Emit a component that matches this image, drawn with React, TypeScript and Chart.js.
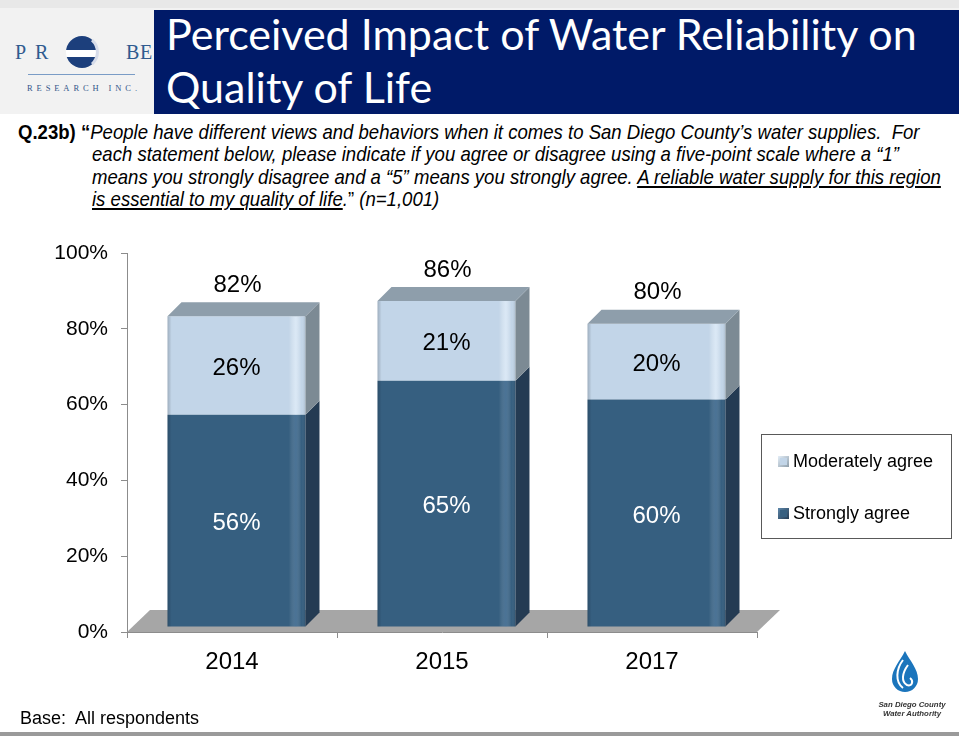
import React, { useEffect, useRef } from "react";
import { Chart, registerables } from "chart.js";

Chart.register(...registerables);

// ---- data ----
const categories = ["2014", "2015", "2017"];
const stronglyAgree = [56, 65, 60];
const moderatelyAgree = [26, 21, 20];
const totals = [82, 86, 80];
const yTickValues = [0, 20, 40, 60, 80, 100];
const seriesNames = ["Strongly agree", "Moderately agree"];

// ---- styles ----
const FONT = "'Liberation Sans', Arial, sans-serif";
const DARK = { front: "#365f80", side: "#243b53", top: "#2d4f6b", hi: "rgba(120,160,200,0.3)" };
const LIGHT = { front: "#c2d5e8", side: "#7c8a94", top: "#8e9eab", hi: "rgba(235,245,255,0.6)" };
const DEPTH_X = 14;
const DEPTH_Y = 14;
const SHIFT_X = 4.5;
const SHIFT_Y = -5;
const FLOOR_DX = 23;
const FLOOR_DY = 22;

const palette = [DARK, LIGHT];

const bar3d = {
  id: "bar3d",
  beforeDatasetsDraw(chart: any) {
    const { ctx, chartArea: a } = chart;
    ctx.save();
    ctx.fillStyle = "#a6a6a6";
    ctx.beginPath();
    ctx.moveTo(a.left, a.bottom);
    ctx.lineTo(a.right, a.bottom);
    ctx.lineTo(a.right + FLOOR_DX, a.bottom - FLOOR_DY);
    ctx.lineTo(a.left + FLOOR_DX, a.bottom - FLOOR_DY);
    ctx.closePath();
    ctx.fill();
    ctx.restore();
    ctx.save();
    ctx.translate(SHIFT_X, SHIFT_Y);
  },
  afterDatasetsDraw(chart: any) {
    const { ctx } = chart;
    const nSets = chart.data.datasets.length;
    for (let d = 0; d < nSets; d++) {
      const meta = chart.getDatasetMeta(d);
      const col = palette[d];
      meta.data.forEach((el: any) => {
        const l = el.x - el.width / 2;
        const r = el.x + el.width / 2;
        const top = Math.min(el.y, el.base);
        const bot = Math.max(el.y, el.base);
        const g = ctx.createLinearGradient(l, 0, r, 0);
        g.addColorStop(0, "rgba(0,0,0,0.18)");
        g.addColorStop(0.03, "rgba(0,0,0,0)");
        g.addColorStop(0.88, "rgba(255,255,255,0)");
        g.addColorStop(0.93, col.hi);
        g.addColorStop(0.97, "rgba(255,255,255,0)");
        g.addColorStop(1, "rgba(0,0,0,0.12)");
        ctx.fillStyle = g;
        ctx.fillRect(l, top, r - l, bot - top);
        ctx.fillStyle = col.side;
        ctx.beginPath();
        ctx.moveTo(r, top);
        ctx.lineTo(r + DEPTH_X, top - DEPTH_Y);
        ctx.lineTo(r + DEPTH_X, bot - DEPTH_Y);
        ctx.lineTo(r, bot);
        ctx.closePath();
        ctx.fill();
        if (d === nSets - 1) {
          ctx.fillStyle = col.top;
          ctx.beginPath();
          ctx.moveTo(l, top);
          ctx.lineTo(l + DEPTH_X, top - DEPTH_Y);
          ctx.lineTo(r + DEPTH_X, top - DEPTH_Y);
          ctx.lineTo(r, top);
          ctx.closePath();
          ctx.fill();
        }
      });
    }
    ctx.restore();

    ctx.save();
    ctx.font = `24px ${FONT}`;
    ctx.textAlign = "center";
    ctx.textBaseline = "middle";
    for (let d = 0; d < nSets; d++) {
      const meta = chart.getDatasetMeta(d);
      const vals = chart.data.datasets[d].data;
      ctx.fillStyle = d === 0 ? "#ffffff" : "#000000";
      meta.data.forEach((el: any, i: number) => {
        ctx.fillText(vals[i] + "%", el.x + SHIFT_X, (el.y + el.base) / 2 + SHIFT_Y + 3);
      });
    }
    const topMeta = chart.getDatasetMeta(nSets - 1);
    ctx.fillStyle = "#000";
    topMeta.data.forEach((el: any, i: number) => {
      ctx.fillText(totals[i] + "%", el.x + SHIFT_X + 1, el.y + SHIFT_Y - 31);
    });
    ctx.restore();
  },
  afterDraw(chart: any) {
    const { ctx } = chart;
    ctx.save();
    ctx.fillStyle = "#ffffff";
    ctx.strokeStyle = "#595959";
    ctx.lineWidth = 1;
    ctx.fillRect(761.5, 434.5, 190, 104);
    ctx.strokeRect(761.5, 434.5, 190, 104);
    const items = [
      { label: chart.data.datasets[1].label, col: LIGHT, y: 461 },
      { label: chart.data.datasets[0].label, col: DARK, y: 513 },
    ];
    ctx.font = `18px ${FONT}`;
    ctx.textBaseline = "middle";
    ctx.textAlign = "left";
    items.forEach((it) => {
      const g = ctx.createLinearGradient(778, it.y - 5, 789, it.y + 6);
      g.addColorStop(0, it.col === LIGHT ? "#e4eef8" : "#5d87aa");
      g.addColorStop(1, it.col === LIGHT ? "#8e9eab" : "#243b53");
      ctx.fillStyle = g;
      ctx.fillRect(778, it.y - 5, 11, 11);
      ctx.fillStyle = it.col.front;
      ctx.fillRect(780, it.y - 3, 7, 7);
      ctx.fillStyle = "#000";
      ctx.fillText(it.label, 793, it.y + 1);
    });
    ctx.restore();
  },
};

function ChartCanvas() {
  const ref = useRef<HTMLCanvasElement | null>(null);
  useEffect(() => {
    if (!ref.current) return;
    const chart = new Chart(ref.current, {
      type: "bar",
      data: {
        labels: categories,
        datasets: [
          {
            label: seriesNames[0],
            data: stronglyAgree,
            backgroundColor: DARK.front,
            borderWidth: 0,
            categoryPercentage: 1,
            barPercentage: 0.657,
            clip: false as any,
          },
          {
            label: seriesNames[1],
            data: moderatelyAgree,
            backgroundColor: LIGHT.front,
            borderWidth: 0,
            categoryPercentage: 1,
            barPercentage: 0.657,
            clip: false as any,
          },
        ],
      },
      options: {
        responsive: false,
        animation: false,
        events: [],
        layout: { padding: { top: 253, right: 202, left: 0, bottom: 0 } },
        plugins: { legend: { display: false }, tooltip: { enabled: false }, title: { display: false } },
        scales: {
          x: {
            stacked: true,
            afterFit: (s: any) => {
              s.height = 104;
            },
            ticks: { color: "#000", font: { size: 24, family: FONT }, padding: 10 },
            grid: { drawOnChartArea: false, drawTicks: true, tickLength: 6, color: "#8c8c8c", offset: true },
            border: { display: true, color: "#8c8c8c", width: 1 },
          },
          y: {
            stacked: true,
            min: 0,
            max: 100,
            afterFit: (s: any) => {
              s.width = 127;
            },
            afterBuildTicks: (s: any) => {
              s.ticks = yTickValues.map((v) => ({ value: v }));
            },
            ticks: {
              color: "#000",
              font: { size: 21, family: FONT },
              padding: 13,
              callback: (v: any) => v + "%",
            },
            grid: { drawOnChartArea: false, drawTicks: true, tickLength: 6, color: "#8c8c8c" },
            border: { display: true, color: "#8c8c8c", width: 1 },
          },
        },
      },
      plugins: [bar3d],
    });
    return () => chart.destroy();
  }, []);
  return (
    <canvas
      ref={ref}
      width={959}
      height={736}
      style={{ position: "absolute", left: 0, top: 0, width: 959, height: 736 }}
    />
  );
}

function ProbeLogo() {
  return (
    <svg
      style={{ position: "absolute", left: 0, top: 10, width: 154, height: 104 }}
      viewBox="0 10 154 104"
    >
      <defs>
        <clipPath id="probeClip">
          <circle cx="82" cy="52" r="16" />
        </clipPath>
      </defs>
      <g fontFamily="'Liberation Serif','DejaVu Serif',serif" fontSize="20" fill="#2f5b8f">
        <text x="15" y="59">P</text>
        <text x="35" y="59">R</text>
        <text x="126" y="59">B</text>
        <text x="140" y="59">E</text>
      </g>
      <g clipPath="url(#probeClip)">
        <rect x="60" y="30" width="44" height="20" fill="#1c3f7c" />
        <rect x="60" y="50" width="44" height="7" fill="#ffffff" />
        <rect x="60" y="57" width="44" height="15" fill="#1c3f7c" />
      </g>
      <path d="M92,40 A16,16 0 0 1 92,64" stroke="#d6dcea" strokeWidth="3" fill="none" />
      <line x1="28" y1="74.5" x2="135" y2="74.5" stroke="#7a9cc6" strokeWidth="1.2" />
      <text
        x="27"
        y="91"
        fontFamily="'Liberation Serif','DejaVu Serif',serif"
        fontSize="8.5"
        fill="#34578a"
        textLength="110"
        lengthAdjust="spacing"
      >
        RESEARCH INC.
      </text>
    </svg>
  );
}

function WaterLogo() {
  return (
    <svg style={{ position: "absolute", left: 875, top: 648, width: 76, height: 74 }} viewBox="0 0 76 74">
      <path d="M30,3 C25,13 17,21 17,31 A13,13 0 0 0 43,31 C43,21 35,13 30,3 Z" fill="#1b75bc" />
      <path d="M28,12 C21,21 20,34 28,40" stroke="#fff" strokeWidth="2" fill="none" />
      <path d="M33,17 C27,25 26,34 32,37 C37,39 39,33 35,30" stroke="#fff" strokeWidth="2" fill="none" />
      <g fontFamily="'Liberation Sans',Arial,sans-serif" fontSize="7.8" fontStyle="italic" fontWeight="bold" fill="#333" textAnchor="middle">
        <text x="37" y="59">San Diego County</text>
        <text x="37" y="68">Water Authority</text>
      </g>
    </svg>
  );
}

const Q_SCALE = 0.884;

export default function App() {
  const qFont = "'Liberation Sans', Arial, sans-serif";
  const indent = 74 / Q_SCALE;
  return (
    <div
      style={{
        position: "fixed",
        left: 0,
        top: 0,
        width: 959,
        height: 736,
        background: "#ffffff",
        overflow: "hidden",
        fontFamily: FONT,
      }}
    >
      <div style={{ position: "absolute", left: 0, top: 0, width: 959, height: 114, background: "#f2f2f2" }} />
      <div style={{ position: "absolute", left: 0, top: 0, width: 959, height: 8, background: "#e8e8e8" }} />
      <ProbeLogo />
      <div style={{ position: "absolute", left: 154, top: 10, width: 805, height: 104, background: "#001a68" }} />
      <div
        style={{
          position: "absolute",
          left: 166,
          top: 7,
          fontFamily: "Lato, 'Open Sans', sans-serif",
          fontSize: 43,
          lineHeight: "53px",
          color: "#ffffff",
          whiteSpace: "nowrap",
        }}
      >
        <div>Perceived Impact of Water Reliability on</div>
        <div>Quality of Life</div>
      </div>
      <div
        style={{
          position: "absolute",
          left: 18,
          top: 121,
          fontFamily: qFont,
          fontSize: 21,
          lineHeight: "22.3px",
          color: "#000",
          whiteSpace: "nowrap",
          transform: `scaleX(${Q_SCALE})`,
          transformOrigin: "0 0",
        }}
      >
        <div>
          <span style={{ fontWeight: "bold" }}>Q.23b) “</span>
          <i>People have different views and behaviors when it comes to San Diego County’s water supplies.&nbsp; For</i>
        </div>
        <div style={{ paddingLeft: indent }}>
          <i>each statement below, please indicate if you agree or disagree using a five-point scale where a “1”</i>
        </div>
        <div style={{ paddingLeft: indent }}>
          <i>
            means you strongly disagree and a “5” means you strongly agree. <u>A reliable water supply for this region</u>
          </i>
        </div>
        <div style={{ paddingLeft: indent }}>
          <i>
            <u>is essential to my quality of life</u>.
          </i>
          ” <i>(n=1,001)</i>
        </div>
      </div>
      <ChartCanvas />
      <div
        style={{
          position: "absolute",
          left: 20,
          top: 707,
          fontSize: 18,
          lineHeight: "22px",
          color: "#000",
          whiteSpace: "nowrap",
        }}
      >
        Base:&nbsp; All respondents
      </div>
      <WaterLogo />
      <div style={{ position: "absolute", left: 0, top: 732, width: 959, height: 4, background: "#9a9a9a" }} />
    </div>
  );
}
